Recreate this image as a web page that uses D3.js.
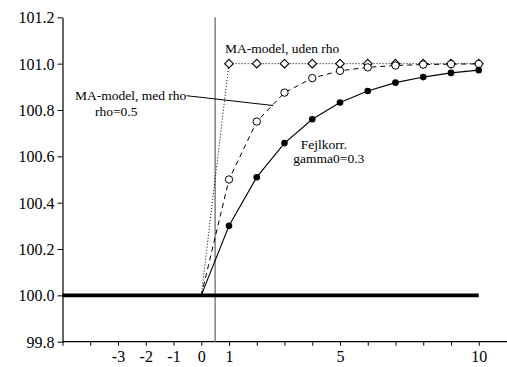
<!DOCTYPE html>
<html>
<head>
<meta charset="utf-8">
<script src="https://cdn.jsdelivr.net/npm/d3@7"></script>
<style>
  html, body { margin: 0; padding: 0; background: #fff; }
  svg { display: block; }
  text { font-family: "Liberation Serif", "Times New Roman", serif; fill: #000; }
</style>
</head>
<body>
<script>
// Periods after the shock (0 = shock period)
const periods = [0, 1, 2, 3, 4, 5, 6, 7, 8, 9, 10];
// Response paths
const maUdenRho = [100.0, 101.0, 101.0, 101.0, 101.0, 101.0, 101.0, 101.0, 101.0, 101.0, 101.0];
const maMedRho  = [100.0, 100.5, 100.75, 100.875, 100.9375, 100.969, 100.984, 100.992, 100.996, 100.998, 100.999];
const fejlkorr  = [100.0, 100.3, 100.51, 100.657, 100.76, 100.832, 100.882, 100.918, 100.942, 100.96, 100.972];
// Baseline level and the shock marker
const baseLevel = 100.0;
const baseRange = [-5, 10];
const shockAt = 0.5;
// Axis ticks
const yTicks = [99.8, 100.0, 100.2, 100.4, 100.6, 100.8, 101.0, 101.2];
const xTicks = [-5, -4, -3, -2, -1, 0, 1, 2, 3, 4, 5, 6, 7, 8, 9, 10];
const xTickLabels = {"-3": "-3", "-2": "-2", "-1": "-1", "0": "0", "1": "1", "5": "5", "10": "10"};

const W = 507, H = 367;
const svg = d3.select("body").append("svg").attr("width", W).attr("height", H);

const x = d3.scaleLinear().domain([-5, 11]).range([62.5, 506.5]);
const y = d3.scaleLinear().domain([99.8, 101.2]).range([341.7, 17.3]);

// y axis
const yAxis = svg.append("g").attr("transform", `translate(${x(-5)},0)`)
  .call(d3.axisLeft(y).tickValues(yTicks).tickFormat(d3.format(".1f")).tickSize(5).tickSizeOuter(0));
// x axis
const xAxis = svg.append("g").attr("transform", `translate(0,${y(99.8)})`)
  .call(d3.axisBottom(x).tickValues(xTicks).tickFormat(d => xTickLabels[String(d)] || "").tickSize(4).tickSizeOuter(0));

[yAxis, xAxis].forEach(g => {
  g.select(".domain").attr("stroke", "#000").attr("stroke-width", 1.2);
  g.selectAll(".tick line").attr("stroke", "#000").attr("stroke-width", 1);
  g.selectAll("text").attr("font-family", "Liberation Serif, Times New Roman, serif")
    .attr("font-size", 16).attr("fill", "#000");
});
yAxis.selectAll("text").attr("x", -8).attr("dy", "0.35em");
xAxis.selectAll("text").attr("y", 9).attr("dy", "0.71em");
// extend x axis line to the right edge
xAxis.select(".domain").attr("d", `M${x(-5)},0H${W}`);

// shock marker
svg.append("line")
  .attr("x1", x(shockAt)).attr("x2", x(shockAt))
  .attr("y1", y(101.2)).attr("y2", y(99.8))
  .attr("stroke", "#777").attr("stroke-width", 1.4);

// baseline
svg.append("line")
  .attr("x1", x(baseRange[0])).attr("x2", x(baseRange[1]))
  .attr("y1", y(baseLevel)).attr("y2", y(baseLevel))
  .attr("stroke", "#000").attr("stroke-width", 3.6);

const line = d3.line().x((d, i) => x(periods[i])).y(d => y(d));

svg.append("path").datum(maUdenRho).attr("d", line)
  .attr("fill", "none").attr("stroke", "#000").attr("stroke-width", 1)
  .attr("stroke-dasharray", "1,2");
svg.append("path").datum(maMedRho).attr("d", line)
  .attr("fill", "none").attr("stroke", "#000").attr("stroke-width", 1)
  .attr("stroke-dasharray", "5,4");
svg.append("path").datum(fejlkorr).attr("d", line)
  .attr("fill", "none").attr("stroke", "#000").attr("stroke-width", 1.1);

// markers (skip the shock period)
const diamond = d3.symbol().type(d3.symbolDiamond2).size(48);
svg.append("g").selectAll("path").data(maUdenRho.slice(1)).join("path")
  .attr("d", diamond)
  .attr("transform", (d, i) => `translate(${x(periods[i + 1])},${y(d)})`)
  .attr("fill", "#fff").attr("stroke", "#000").attr("stroke-width", 1.1);

svg.append("g").selectAll("circle").data(maMedRho.slice(1)).join("circle")
  .attr("cx", (d, i) => x(periods[i + 1])).attr("cy", d => y(d)).attr("r", 3.7)
  .attr("fill", "#fff").attr("stroke", "#000").attr("stroke-width", 1);

svg.append("g").selectAll("circle").data(fejlkorr.slice(1)).join("circle")
  .attr("cx", (d, i) => x(periods[i + 1])).attr("cy", d => y(d)).attr("r", 3.3)
  .attr("fill", "#000");

// annotations
const ann = svg.append("g").attr("font-size", 13.5);
ann.append("text").attr("x", 225).attr("y", 53.3).text("MA-model, uden rho");
ann.append("text").attr("x", 75).attr("y", 100).text("MA-model, med rho");
ann.append("text").attr("x", 95).attr("y", 115.7).text("rho=0.5");
ann.append("text").attr("x", 300.7).attr("y", 149).text("Fejlkorr.");
ann.append("text").attr("x", 293.3).attr("y", 163).text("gamma0=0.3");
svg.append("line")
  .attr("x1", 186.5).attr("y1", 95.7).attr("x2", 273).attr("y2", 105.5)
  .attr("stroke", "#000").attr("stroke-width", 1);
</script>
</body>
</html>
